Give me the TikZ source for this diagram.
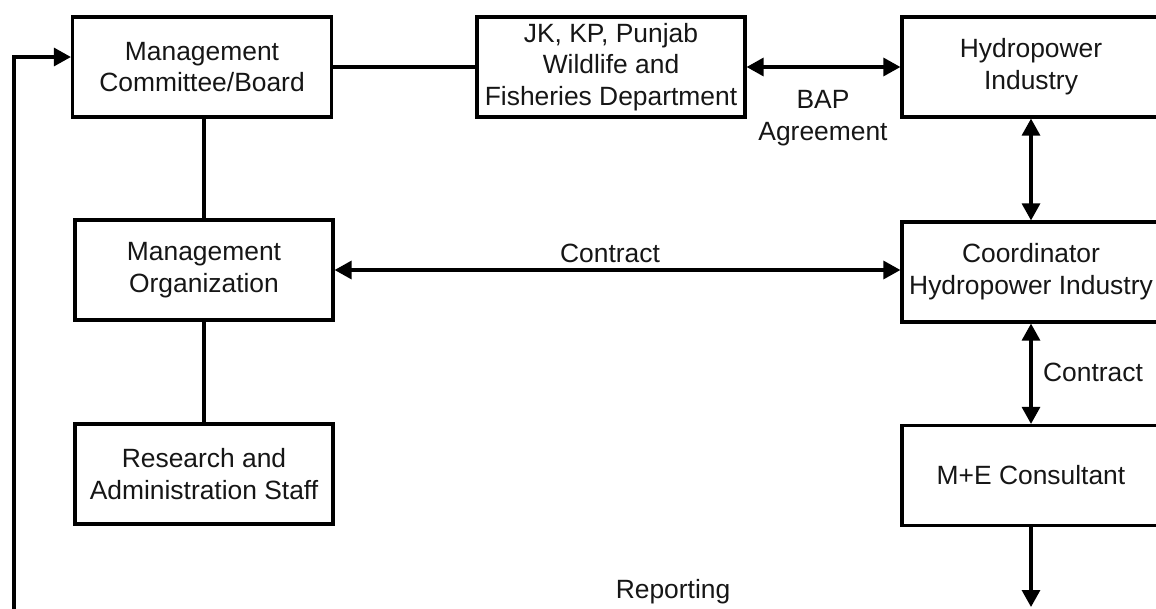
\documentclass[tikz,border=0pt]{standalone}
\usepackage{fontspec}
\setmainfont{Liberation Sans}
\usetikzlibrary{arrows.meta}
\definecolor{ink}{HTML}{161616}
\tikzset{
  box/.style={draw=black, line width=3.2pt, rectangle, align=center,
    inner sep=2pt, minimum width=258pt, minimum height=100pt,
    text=ink, font=\fontsize{26.4}{31.7}\selectfont},
  lbl/.style={align=center, inner sep=0pt, text=ink,
    font=\fontsize{26.4}{31.7}\selectfont},
  wire/.style={line width=3.2pt, draw=black},
  tip/.style={wire, -{Triangle[length=17pt,width=18pt]}},
  tips/.style={wire, {Triangle[length=17pt,width=18pt]}-{Triangle[length=17pt,width=18pt]}}
}
\begin{document}
\begin{tikzpicture}[x=1pt, y=-1pt]
  \useasboundingbox (0,0) rectangle (1156,608);
  \clip (0,0) rectangle (1156,608);
  \fill[white] (0,0) rectangle (1156,608);

  % left column
  \node[box, minimum width=259pt] (board) at (202,67) {Management\\Committee/Board};
  \node[box] (mo) at (204,270) {Management\\Organization};
  \node[box] (staff) at (204,474) {Research and\\Administration Staff};

  % top middle
  \node[box, minimum width=268pt] (dept) at (611,67) {JK, KP, Punjab\\Wildlife and\\Fisheries Department};

  % right column
  \node[box] (hydro) at (1031,67) {Hydropower\\Industry};
  \node[box] (coord) at (1031,272) {Coordinator\\Hydropower Industry};
  \node[box] (me) at (1031,475.5) {M+E Consultant};

  % loose ends of the reporting loop
  \coordinate (repin) at (1031,607);
  \coordinate (repout) at (14,640);

  % connectors
  \draw[wire] (board.east) -- (dept.west);
  \draw[wire] (mo.north |- board.south) -- (mo.north);
  \draw[wire] (mo.south) -- (staff.north);
  \draw[tips] (dept.east) -- (hydro.west);
  \draw[tips] (hydro.south) -- (coord.north);
  \draw[tips] (mo.east) -- (mo.east -| coord.west);
  \draw[tips] (coord.south) -- (me.north);
  \draw[tip] (me.south) -- (repin);
  \draw[tip] (repout) |- ([yshift=10pt]board.west);

  % labels
  \node[lbl] (bap) at (823,118.5) {BAP\\Agreement};
  \node[lbl] (c1) at (610,253) {Contract};
  \node[lbl] (c2) at (1093,372) {Contract};
  \node[lbl] (rep) at (673,592) {Reporting};
\end{tikzpicture}
\end{document}
